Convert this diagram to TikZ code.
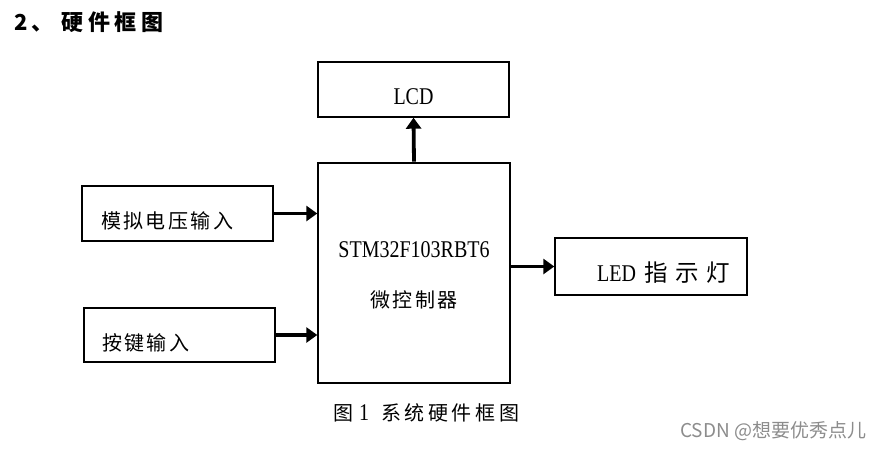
\documentclass[tikz,border=0pt]{standalone}
\usepackage{fontspec}
\setmainfont{Liberation Serif}
\newfontfamily\cjk[LetterSpace=12]{Noto Sans CJK SC}
\newfontfamily\cjkw[LetterSpace=32]{Noto Sans CJK SC}
\newfontfamily\cjkc[LetterSpace=18]{Noto Sans CJK SC}
\newfontfamily\cjkt[LetterSpace=20]{Noto Sans CJK SC}
\newfontfamily\wmfont{Noto Sans CJK SC}
\usetikzlibrary{arrows.meta}
\newcommand{\tall}[1]{\scalebox{1}[1.2]{#1}}
\tikzset{
  blk/.style={draw=black, line width=1.4pt, inner sep=0pt},
  lbl/.style={inner sep=0pt, font=\fontsize{20}{24}\selectfont},
  arr/.style={line width=3.8pt, -{Triangle[length=11pt,width=15pt]}, shorten <=0.7pt},
}
\begin{document}
\begin{tikzpicture}[x=1pt,y=-1pt]
\useasboundingbox (0,0) rectangle (886,450);
% title
\node[inner sep=0pt, anchor=west, font=\fontsize{22}{26}\selectfont] (title) at (14,22)
  {\cjkt\bfseries 2、\hspace{8pt}硬件框图};
% boxes
\node[blk, minimum width=191pt, minimum height=55pt] (lcd) at (413.5,89.5) {};
\node[blk, minimum width=192pt, minimum height=220pt] (mcu) at (414,273) {};
\node[blk, minimum width=191pt, minimum height=55pt] (adc) at (177.5,213.5) {};
\node[blk, minimum width=191pt, minimum height=54pt] (key) at (179.5,335) {};
\node[blk, minimum width=192pt, minimum height=57pt] (led) at (651,266.5) {};
% texts
\node[lbl] (lcdt) at (413.5,97) {\tall{LCD}};
\node[lbl] (mcut1) at (414,250) {\tall{STM32F103RBT6}};
\node[lbl] (mcut2) at (414,300) {\cjk 微控制器};
\node[lbl, anchor=west] (adct) at (101,221) {\cjk 模拟电压输入};
\node[lbl, anchor=west] (keyt) at (102,343) {\cjk 按键输入};
\node[lbl, anchor=west] (ledt) at (597,273) {\tall{LED}\hspace{8pt}{\fontsize{23.5}{27}\selectfont\cjkw 指示灯}};
% caption
\node[lbl, anchor=west] (cap) at (333,413) {\cjkc 图\hspace{6pt}\rmfamily\tall{1}\hspace{12pt}\cjkc 系统硬件框图};
% watermark
\node[inner sep=0pt, anchor=west, text=black!45, font=\fontsize{19}{22}\selectfont] (wm) at (680,431) {\wmfont CSDN @想要优秀点儿};
% arrows
\draw[arr] (mcu.north) -- (lcd.south);
\draw[arr] (adc.east) -- (mcu.west |- adc.east);
\draw[arr] (key.east) -- (mcu.west |- key.east);
\draw[arr] (mcu.east |- led.west) -- (led.west);
\end{tikzpicture}
\end{document}
